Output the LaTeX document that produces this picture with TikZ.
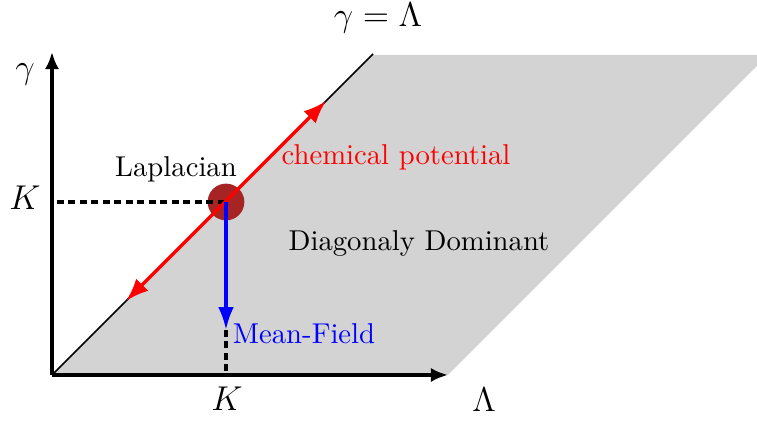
\documentclass[tikz,border=0pt]{standalone}
\usetikzlibrary{arrows.meta}
\definecolor{regiongray}{RGB}{211,211,211}
\definecolor{dotred}{RGB}{166,36,36}
\begin{document}
\begin{tikzpicture}[x=0.3484pt,y=-0.3484pt,
  axis/.style={line width=1.2pt,-{Latex[length=6pt,width=5pt]}},
  guide/.style={line width=1.2pt,dash pattern=on 2.4pt off 1.6pt},
  flow/.style={line width=1.2pt},
  mathlabel/.style={font=\fontsize{12.6}{15}\selectfont,inner sep=0pt},
  txt/.style={inner sep=0pt}]
\useasboundingbox (0,0) rectangle (757,424);
\begin{scope}
\clip (0,0) rectangle (757,424);
\fill[regiongray] (52,375) -- (372,55) -- (768,55) -- (448,375) -- cycle;
\end{scope}
\coordinate (O) at (52,375);
\coordinate (D) at (373,54);
\coordinate (Ytop) at (52,52);
\coordinate (Xend) at (448,375);
\coordinate (Kaxis) at (57,202);
\coordinate (mf) at (226,330);
\coordinate (kb) at (226,375);
\coordinate (rlow) at (126,301);
\coordinate (rhigh) at (326,101);
\draw[line width=0.5pt] (O) -- (D);
\draw[axis] (O) -- (Ytop);
\draw[axis] (O) -- (Xend);
\node[circle,fill=dotred,minimum size=12.8pt,inner sep=0pt] (lap) at (226,202) {};
\draw[guide] (Kaxis) -- (lap.center);
\draw[guide] (mf) -- (kb);
\draw[flow,red,{Latex[length=8pt,width=6pt]}-{Latex[length=8pt,width=6pt]}] (rlow) -- (rhigh);
\draw[flow,blue,-{Latex[length=8pt,width=5.5pt]}] (lap.center) -- (mf);
\node[mathlabel] (gam) at (25,74) {$\gamma$};
\node[mathlabel] (diag) at (378,18) {$\gamma=\Lambda$};
\node[mathlabel] (lam) at (484,400) {$\Lambda$};
\node[mathlabel] (kx) at (227,399) {$K$};
\node[mathlabel] (ky) at (25,198) {$K$};
\node[txt] (laptxt) at (176,169) {Laplacian};
\node[txt,red] (chem) at (396,157) {chemical potential};
\node[txt] (dd) at (419,243) {Diagonaly Dominant};
\node[txt,blue] (mft) at (304,334) {Mean-Field};
\end{tikzpicture}
\end{document}
